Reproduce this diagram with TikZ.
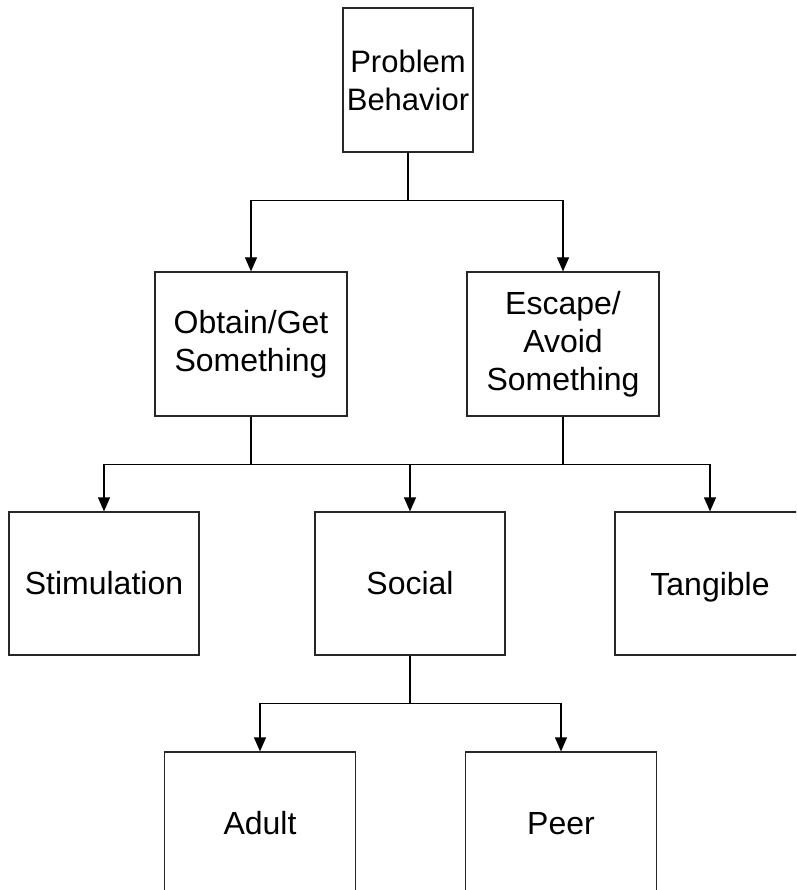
\documentclass[tikz,border=0pt]{standalone}
\usepackage{fontspec}
\setmainfont{Liberation Sans}
\usetikzlibrary{arrows.meta}
\begin{document}
\begin{tikzpicture}[x=1pt,y=-1pt,
  box/.style={draw=black!85, line width=1.2pt, fill=white, align=center,
    inner sep=0pt, font=\fontsize{32}{38}\selectfont},
  arr/.style={draw=black, line width=1.2pt,
    -{Triangle[width=12pt,length=14pt]}},
  link/.style={draw=black, line width=1.2pt}]
\useasboundingbox (0,0) rectangle (796,890);
\clip (0,0) rectangle (796,890);

% top level
\node[box, minimum width=130pt, minimum height=144pt, font=\fontsize{31}{38}\selectfont] (pb) at (408,80) {Problem\\Behavior};

% second level
\node[box, minimum width=192pt, minimum height=144pt] (ob) at (251,344) {Obtain/Get\\Something};
\node[box, minimum width=192pt, minimum height=144pt] (es) at (563,344) {Escape/\\Avoid\\Something};

% third level
\node[box, minimum width=190pt, minimum height=143pt] (st) at (104,583.5) {Stimulation};
\node[box, minimum width=190pt, minimum height=143pt] (so) at (410,583.5) {Social};
\node[box, minimum width=190pt, minimum height=143pt, text depth=0pt] (ta) at (710,583.5) {Tangible};

% fourth level
\node[box, minimum width=191pt, minimum height=143pt] (ad) at (260,823.5) {Adult};
\node[box, minimum width=191pt, minimum height=143pt] (pe) at (561,823.5) {Peer};

% connectors
\draw[arr] (pb.south) -- ++(0,48) -| (ob.north);
\draw[arr] (pb.south) -- ++(0,48) -| (es.north);

\draw[link] (ob.south) -- ++(0,48) coordinate (jl);
\draw[link] (es.south) -- ++(0,48) coordinate (jr);
\draw[link] (jl) -- (jr);
\draw[arr] (jl) -| (st.north);
\draw[arr] (jl) -| (so.north);
\draw[arr] (jr) -| (ta.north);

\draw[arr] (so.south) -- ++(0,48) -| (ad.north);
\draw[arr] (so.south) -- ++(0,48) -| (pe.north);
\end{tikzpicture}
\end{document}
